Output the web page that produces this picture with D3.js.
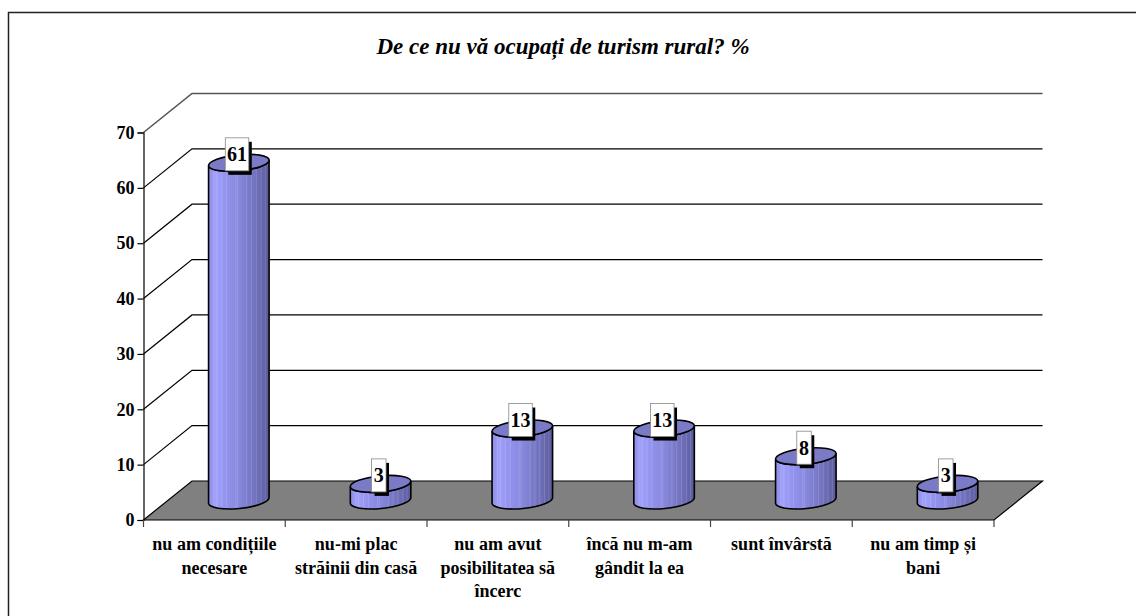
<!DOCTYPE html>
<html><head><meta charset="utf-8">
<script src="https://cdn.jsdelivr.net/npm/d3@7/dist/d3.min.js"></script>
<style>
html,body{margin:0;padding:0;background:#fff;overflow:hidden}
text{font-family:"Liberation Serif",serif;font-weight:bold;fill:#000}
</style></head><body>
<svg id="c" width="1136" height="616"></svg>
<script>
const titleText = "De ce nu vă ocupați de turism rural? %";
const categories = ["c1","c2","c3","c4","c5","c6"];
const categoryLines = [
  ["nu am condițiile","necesare"],
  ["nu-mi plac","străinii din casă"],
  ["nu am avut","posibilitatea să","încerc"],
  ["încă nu m-am","gândit la ea"],
  ["sunt învârstă"],
  ["nu am timp și","bani"]
];
const values = [61,3,13,13,8,3];
const yTicks = [0,10,20,30,40,50,60,70];

const svg = d3.select("#c");
const x = d3.scaleBand().domain(categories).range([143.5,994]);
const y = d3.scaleLinear().domain([0,70]).range([520,132.5]);
const depthX = 48.5, depthY = -39;

// frame
svg.append("path").attr("d","M8.5,620V12.5H1140").attr("fill","none").attr("stroke","#222").attr("stroke-width",1.5);

// title
svg.append("text").attr("x",563).attr("y",54).attr("text-anchor","middle")
  .attr("font-size",23).attr("font-style","italic").text(titleText);

// floor
const x0 = x.range()[0], x1 = x.range()[1];
svg.append("path")
  .attr("d",`M${x0},${y(0)}L${x0+depthX},${y(0)+depthY}L${x1+depthX},${y(0)+depthY}L${x1},${y(0)}Z`)
  .attr("fill","#808080").attr("stroke","#000").attr("stroke-width",1.2);

// grid
yTicks.slice(1).forEach(t=>{
  const p = y(t);
  svg.append("path")
    .attr("d",`M${x0},${p}L${x0+depthX},${p+depthY}H${x1+depthX}`)
    .attr("fill","none")
    .attr("stroke",t===70?"#555":"#000").attr("stroke-width",t===70?1.6:1.2);
});

// axes
const axisY = d3.axisLeft(y).tickValues(yTicks).tickSize(6).tickPadding(3).tickFormat(d3.format("d"));
const gy = svg.append("g").attr("transform",`translate(${x0},0)`).call(axisY);
gy.selectAll("text").attr("font-size",18).style("font-family",'"Liberation Serif",serif').style("font-weight","bold");
gy.selectAll("line,path").attr("stroke","#000").attr("stroke-width",1.2);

const edges = categories.map(c=>x(c)).concat([x1]);
svg.selectAll(".xt").data(edges).join("line")
  .attr("x1",d=>d).attr("x2",d=>d).attr("y1",y(0)).attr("y2",y(0)+7)
  .attr("stroke","#444").attr("stroke-width",1.2);

// gradient
const defs = svg.append("defs");
const grad = defs.append("linearGradient").attr("id","body");
[[0,"#8e8ee8"],[.12,"#a0a0fb"],[.3,"#9292ee"],[.55,"#8484d8"],[.8,"#6f6fba"],[1,"#5a5a9c"]]
  .forEach(s=>grad.append("stop").attr("offset",s[0]).attr("stop-color",s[1]));

// bars
const rx = 30.4, ry = 8, rot = -5.5;
const dxE = rx*Math.cos(rot*Math.PI/180), dyE = rx*Math.sin(rot*Math.PI/180);
const stripes = [.08,.13,.21,.29,.44,.47,.62,.7,.78,.86,.93];
values.forEach((v,i)=>{
  const cx = x(categories[i]) + x.bandwidth()/2 + depthX/2 + .2;
  const bY = y(0) + depthY/2;
  const tY = bY - (y(0)-y(v));
  const body = `M${cx-dxE},${tY-dyE}L${cx-dxE},${bY-dyE}A${rx},${ry} ${rot} 0 0 ${cx+dxE},${bY+dyE}L${cx+dxE},${tY+dyE}A${rx},${ry} ${rot} 0 1 ${cx-dxE},${tY-dyE}Z`;
  const clipId = "clip"+i;
  defs.append("clipPath").attr("id",clipId).append("path").attr("d",body);
  svg.append("path").attr("d",body).attr("fill","url(#body)");
  const g = svg.append("g").attr("clip-path",`url(#${clipId})`);
  stripes.forEach(s=>{
    g.append("rect").attr("x",cx-dxE+2*dxE*s).attr("width",1).attr("y",tY-12).attr("height",bY-tY+24)
      .attr("fill","#fff").attr("opacity",.14);
  });
  svg.append("path").attr("d",body).attr("fill","none").attr("stroke","#000").attr("stroke-width",1.6);
  svg.append("ellipse").attr("cx",cx).attr("cy",tY).attr("rx",rx).attr("ry",ry)
    .attr("transform",`rotate(${rot} ${cx} ${tY})`)
    .attr("fill","#7a7ac6").attr("stroke","#000").attr("stroke-width",1.6);

  // label
  const label = String(v);
  const w = label.length>1 ? 23.5 : 14.5, h = 33;
  const bx = cx - 1.8 - w/2, by = tY - 8.5 - h/2;
  svg.append("rect").attr("x",bx+3).attr("y",by+4).attr("width",w).attr("height",h).attr("fill","#000");
  svg.append("rect").attr("x",bx).attr("y",by).attr("width",w).attr("height",h)
    .attr("fill","#fff").attr("stroke","#888").attr("stroke-width",.8);
  svg.append("text").attr("x",bx+w/2).attr("y",by+h/2+7).attr("text-anchor","middle")
    .attr("font-size",20).text(label);
});

// category labels
categoryLines.forEach((lines,i)=>{
  const cx = x(categories[i]) + x.bandwidth()/2;
  lines.forEach((l,j)=>{
    svg.append("text").attr("x",cx).attr("y",550+j*23.6).attr("text-anchor","middle")
      .attr("font-size",18).text(l);
  });
});
</script>
</body></html>
